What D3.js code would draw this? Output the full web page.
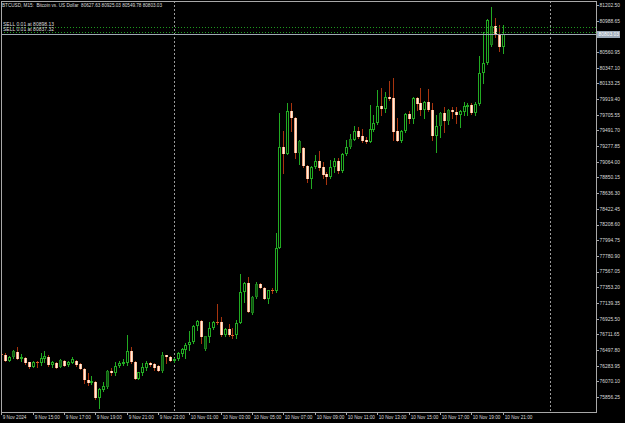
<!DOCTYPE html>
<html><head><meta charset="utf-8">
<script src="https://cdn.jsdelivr.net/npm/d3@7"></script>
<style>html,body{margin:0;padding:0;background:#000;overflow:hidden}</style>
</head><body>
<svg id="c" width="625" height="423"></svg>
<script>
const headerText = "BTCUSD, M15:  Bitcoin vs. US Dollar  80627.63 80925.03 80549.78 80803.03";
const openP = [
76443,76429,76347,76402,76470,76375,76388,76334,76266,76334,
76320,76375,76402,76293,76320,76266,76347,76293,76320,76347,
76306,76238,76088,76047,76061,75843,75952,75993,76211,76184,
76279,76306,76320,76484,76334,76102,76184,76252,76320,76306,
76279,76211,76429,76402,76347,76375,76443,76497,76566,76607,
76825,76893,76511,76675,76797,76879,76879,76702,76784,76702,
76702,76866,77288,77411,77002,77220,77397,77343,77193,77316,
77302,77893,79266,79170,79757,79661,79184,79252,79007,78829,
78993,79075,78993,78898,78857,78993,79075,78939,79170,79266,
79361,79484,79416,79361,79334,79498,79593,79825,79784,79948,
79934,79484,79348,79484,79716,79648,79934,79866,79771,79880,
79771,79416,79552,79730,79621,79771,79743,79702,79743,79811,
79839,79730,79852,80275,80412,80657,80916,80807,80627.63];
const highP = [
76456,76456,76416,76497,76538,76443,76402,76334,76347,76347,
76456,76484,76429,76347,76334,76375,76361,76347,76402,76361,
76320,76252,76184,76143,76075,75979,76061,76225,76252,76334,
76347,76375,76702,76538,76347,76197,76320,76347,76334,76320,
76293,76470,76429,76416,76388,76470,76525,76593,76757,76838,
76907,76907,76688,76879,76893,77125,76947,76797,76852,76797,
76907,77534,77425,77493,77234,77425,77411,77357,77316,77343,
78089,79730,79484,79866,79866,79675,79361,79266,79020,79007,
79157,79211,79061,78925,79089,79116,79116,79184,79361,79443,
79552,79539,79511,79402,79839,79702,80043,80071,80016,80166,
80207,79661,79498,79730,79757,79948,79948,80071,79893,80057,
79866,79702,79743,79811,79784,79811,79811,79771,79880,79866,
79866,79880,80507,80834,81012,81175,81025,80930,80925.03];
const lowP = [
76416,76347,76347,76388,76375,76347,76306,76252,76266,76266,
76293,76334,76279,76266,76252,76266,76279,76279,76320,76279,
76238,76047,76020,76034,75829,75706,75938,75979,76156,76156,
76266,76293,76293,76320,76102,76102,76156,76225,76279,76225,
76211,76197,76320,76347,76334,76361,76416,76388,76497,76593,
76770,76593,76497,76607,76784,76852,76688,76688,76688,76661,
76661,76866,77152,77016,76988,77207,77343,77193,77138,77275,
77288,77888,78911,79170,79484,79116,79034,78993,78789,78707,
78980,78952,78843,78761,78843,78925,78911,78925,79157,79252,
79361,79389,79334,79320,79334,79484,79580,79702,79743,79907,
79361,79348,79334,79470,79593,79593,79771,79702,79661,79757,
79361,79198,79402,79470,79580,79661,79593,79539,79702,79702,
79716,79702,79839,80139,80398,80643,80766,80575,80549.78];
const closeP = [
76429,76347,76402,76484,76375,76402,76320,76266,76334,76320,
76388,76416,76293,76334,76252,76361,76279,76334,76375,76293,
76238,76088,76047,76075,75843,75966,76006,76211,76184,76279,
76320,76334,76484,76334,76102,76197,76266,76320,76293,76252,
76211,76429,76402,76347,76375,76456,76511,76566,76607,76825,
76893,76675,76688,76797,76879,76866,76702,76784,76702,76688,
76866,77288,77411,77016,77220,77397,77343,77193,77316,77302,
77893,79266,79170,79757,79661,79184,79348,79007,78829,78993,
79075,78980,78884,78857,78993,79075,78939,79170,79266,79375,
79484,79402,79348,79334,79511,79593,79825,79784,79948,79921,
79470,79348,79484,79716,79648,79934,79852,79771,79880,79771,
79416,79552,79730,79621,79771,79743,79702,79757,79825,79839,
79730,79852,80275,80412,80998,80916,80793,80630,80803.03];
const filledBullBars = [3,15,27,41,52,64,65,76,89,112,114,125];
const priceTicks = [81202.50,80988.65,80774.80,80560.95,80347.10,80133.25,79919.40,79705.55,79491.70,79277.85,79064.00,78850.15,78636.30,78422.45,78208.60,77994.75,77780.90,77567.05,77353.20,77139.35,76925.50,76711.65,76497.80,76283.95,76070.10,75856.25];
const timeLabels = ["9 Nov 2024","9 Nov 15:00","9 Nov 17:00","9 Nov 19:00","9 Nov 21:00","9 Nov 23:00","10 Nov 01:00","10 Nov 03:00","10 Nov 05:00","10 Nov 07:00","10 Nov 09:00","10 Nov 11:00","10 Nov 13:00","10 Nov 15:00","10 Nov 17:00","10 Nov 19:00","10 Nov 21:00"];
const timeLabelBars = [0,8,16,24,32,40,48,56,64,72,80,88,96,104,112,120,128];
const daySeparatorBars = [44,140];
const orderLabels = ["SELL 0.01 at 80898.13","SELL 0.01 at 80837.32"];
const orderPrices = [80898.13,80837.32];
const bidPrice = 80803.03;

const W=625,H=423, L=1, T=1, R=596, B=412;
const FONT = "'Liberation Sans', Arial, sans-serif";
const svg = d3.select("#c");
svg.append("rect").attr("width",W).attr("height",H).attr("fill","#000");

const y = d3.scaleLinear().domain([75856.25, 81202.5]).range([397, 5]);
const x = d3.scaleLinear().domain([0, 140]).range([1.35, 549.7]);

const defs = svg.append("defs");
const g1 = defs.append("linearGradient").attr("id","bear").attr("x1","0").attr("x2","1").attr("y1","0").attr("y2","0");
[["0","#de5a24"],["0.4","#fff4ea"],["0.7","#ffe0c8"],["1","#f39a66"]].forEach(s=>g1.append("stop").attr("offset",s[0]).attr("stop-color",s[1]));
defs.append("clipPath").attr("id","plot").append("rect").attr("x",L).attr("y",T).attr("width",R-L).attr("height",B-T);

// day separators
svg.append("g").selectAll("line").data(daySeparatorBars).join("line")
  .attr("x1",d=>Math.round(x(d))+0.5).attr("x2",d=>Math.round(x(d))+0.5)
  .attr("y1",T).attr("y2",B).attr("stroke","#9a9a9a").attr("stroke-dasharray","2,2");

const bull="#22aa22", bullWick="#22aa22", bearWick="#a8340e";
const cg = svg.append("g").attr("clip-path","url(#plot)");
const idx = d3.range(openP.length);
idx.forEach(i=>{
  const o=openP[i], c=closeP[i], h=highP[i], l=lowP[i];
  const cx=Math.round(x(i));
  const up = c>=o;
  const filled = filledBullBars.includes(i);
  cg.append("line").attr("x1",cx+0.5).attr("x2",cx+0.5)
    .attr("y1",Math.round(y(h))).attr("y2",Math.round(y(l))+1)
    .attr("stroke", up?bullWick:bearWick).attr("stroke-width",1);
  const top=Math.round(y(Math.max(o,c))), bot=Math.round(y(Math.min(o,c)));
  if(up){
    if(bot-top<=1){
      cg.append("rect").attr("x",cx-1).attr("y",top).attr("width",3).attr("height",Math.max(bot-top,1)).attr("fill",bull);
    } else {
      cg.append("rect").attr("x",cx-0.5).attr("y",top+0.5).attr("width",2).attr("height",bot-top-1)
        .attr("fill",filled?"#0f560f":"#000").attr("stroke",filled?"#1b7d1b":bull).attr("stroke-width",1);
    }
  } else {
    cg.append("rect").attr("x",cx-1).attr("y",top).attr("width",3).attr("height",Math.max(bot-top,1))
      .attr("fill", bot-top<=1 ? "#e0602a" : "url(#bear)");
  }
});

// order lines
orderPrices.forEach((p,k)=>{
  const yy=Math.round(y(p))+0.5;
  svg.append("line").attr("x1",L).attr("x2",R).attr("y1",yy).attr("y2",yy)
    .attr("stroke","#1e9a1e").attr("stroke-dasharray","1,2");
  svg.append("text").attr("x",3).attr("y",yy-1.8).text(orderLabels[k])
    .attr("font-family",FONT).attr("font-size",5).attr("fill","#dcdcdc");
});
// bid line
const by=Math.round(y(bidPrice))+0.5;
svg.append("line").attr("x1",L).attr("x2",R).attr("y1",by).attr("y2",by).attr("stroke","#9ea8b4");

// frame
svg.append("rect").attr("x",L+0.5).attr("y",T+0.5).attr("width",R-L).attr("height",B-T)
  .attr("fill","none").attr("stroke","#a8a8a8");

// right axis
const ax = svg.append("g");
priceTicks.forEach(p=>{
  const yy=y(p);
  if(Math.abs(yy-y(bidPrice))<4.5) return;
  ax.append("line").attr("x1",R+1).attr("x2",R+3).attr("y1",Math.round(yy)+0.5).attr("y2",Math.round(yy)+0.5).attr("stroke","#a8a8a8");
  ax.append("text").attr("x",R+3.5).attr("y",yy+1.9).text(d3.format(".2f")(p))
    .attr("font-family",FONT).attr("font-size",4.9).attr("fill","#dcdcdc");
});
// bid box
ax.append("rect").attr("x",R+1).attr("y",by-3.5).attr("width",23).attr("height",7).attr("fill","#9aa7b7");
ax.append("text").attr("x",R+2.5).attr("y",by+1.9).text(d3.format(".2f")(bidPrice))
  .attr("font-family",FONT).attr("font-size",4.9).attr("fill","#ffffff");

// bottom axis
timeLabelBars.forEach((b,k)=>{
  const xx=Math.round(x(b))+0.5;
  ax.append("line").attr("x1",xx).attr("x2",xx).attr("y1",B+1).attr("y2",B+3).attr("stroke","#a8a8a8");
  ax.append("text").attr("x",xx+1.2).attr("y",B+6.5).text(timeLabels[k])
    .attr("font-family",FONT).attr("font-size",4.65).attr("fill","#dcdcdc");
});

// header
svg.append("text").attr("x",2).attr("y",7).text(headerText)
  .attr("font-family",FONT).attr("font-size",5).attr("fill","#dcdcdc").attr("xml:space","preserve")
  .attr("textLength",160).attr("lengthAdjust","spacingAndGlyphs");
</script>
</body></html>
